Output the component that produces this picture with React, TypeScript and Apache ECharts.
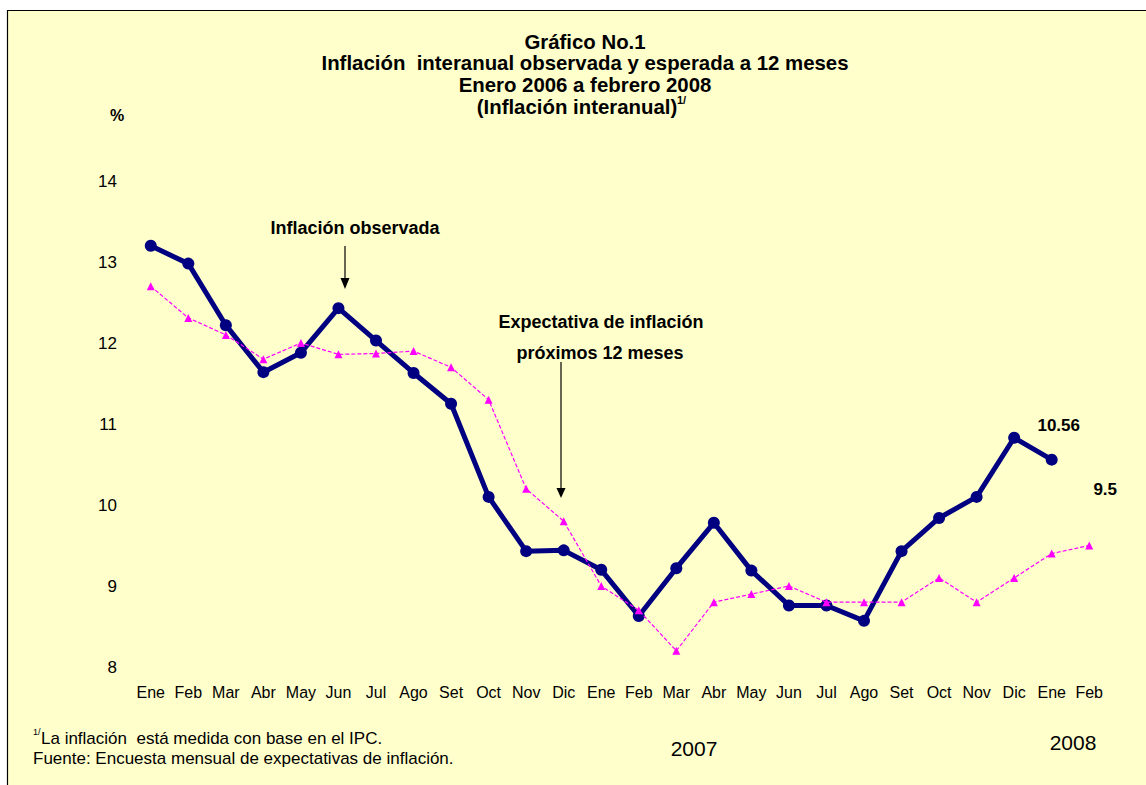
import React, { useEffect, useRef } from "react";
import * as echarts from "echarts";

const months = [
  "Ene", "Feb", "Mar", "Abr", "May", "Jun", "Jul", "Ago", "Set", "Oct", "Nov", "Dic",
  "Ene", "Feb", "Mar", "Abr", "May", "Jun", "Jul", "Ago", "Set", "Oct", "Nov", "Dic",
  "Ene", "Feb",
];

const observed: (number | null)[] = [
  13.2, 12.98, 12.22, 11.64, 11.88, 12.43, 12.03, 11.63, 11.25, 10.1, 9.43, 9.44,
  9.2, 8.63, 9.22, 9.78, 9.19, 8.76, 8.76, 8.57, 9.43, 9.84, 10.1, 10.83,
  10.56, null,
];

const expected: number[] = [
  12.7, 12.31, 12.1, 11.8, 12.0, 11.86, 11.87, 11.9, 11.7, 11.3, 10.2, 9.8,
  9.0, 8.7, 8.2, 8.8, 8.9, 9.0, 8.8, 8.8, 8.8, 9.1, 8.8, 9.1,
  9.4, 9.5,
];

const yMin = 8;
const yMax = 14;
const yStep = 1;

const titleLines = [
  "Gráfico No.1",
  "Inflación  interanual observada y esperada a 12 meses",
  "Enero 2006 a febrero 2008",
];
const titleLast = "(Inflación interanual)";
const footnote1 = "La inflación  está medida con base en el IPC.";
const footnote2 = "Fuente: Encuesta mensual de expectativas de inflación.";

const FONT = "Arial, 'Liberation Sans', Helvetica, sans-serif";

export default function App() {
  const ref = useRef<HTMLDivElement>(null);

  useEffect(() => {
    if (!ref.current) return;
    const chart = echarts.init(ref.current, null, { renderer: "svg" });

    const lastObs = observed.length - 2;
    const lastExp = expected.length - 1;

    const obsData = observed.map((v, i) =>
      i === lastObs
        ? {
            value: v,
            label: {
              show: true,
              position: "inside",
              offset: [7, -34],
              formatter: "{c}",
              color: "#000",
              fontWeight: "bold",
              fontSize: 17,
              fontFamily: FONT,
            },
          }
        : v
    );
    const expData = expected.map((v, i) =>
      i === lastExp
        ? {
            value: v,
            label: {
              show: true,
              position: "inside",
              offset: [16, -56],
              formatter: "{c}",
              color: "#000",
              fontWeight: "bold",
              fontSize: 17,
              fontFamily: FONT,
            },
          }
        : v
    );

    const titleYs = [42, 63, 85];
    const graphics: any[] = [
      {
        type: "rect",
        silent: true,
        z: -10,
        shape: { x: 7.5, y: 10.5, width: 1160, height: 800 },
        style: { fill: "#FFFFCC", stroke: "#000", lineWidth: 1.2 },
      },
      ...titleLines.map((t, i) => ({
        type: "text",
        silent: true,
        x: 585,
        y: titleYs[i],
        style: {
          text: t,
          align: "center",
          verticalAlign: "middle",
          fontSize: 20.4,
          fontWeight: "bold",
          fontFamily: FONT,
          fill: "#000",
        },
      })),
      {
        type: "text",
        silent: true,
        x: 577,
        y: 107,
        style: {
          text: titleLast,
          align: "center",
          verticalAlign: "middle",
          fontSize: 20.4,
          fontWeight: "bold",
          fontFamily: FONT,
          fill: "#000",
        },
      },
      {
        type: "text",
        silent: true,
        x: 677,
        y: 100,
        style: {
          text: "1/",
          align: "left",
          verticalAlign: "middle",
          fontSize: 11,
          fontWeight: "bold",
          fontFamily: FONT,
          fill: "#000",
        },
      },
      {
        type: "text",
        silent: true,
        x: 117,
        y: 115,
        style: {
          text: "%",
          align: "center",
          verticalAlign: "middle",
          fontSize: 16,
          fontWeight: "bold",
          fontFamily: FONT,
          fill: "#000",
        },
      },
      {
        type: "text",
        silent: true,
        x: 355,
        y: 228,
        style: {
          text: "Inflación observada",
          align: "center",
          verticalAlign: "middle",
          fontSize: 18,
          fontWeight: "bold",
          fontFamily: FONT,
          fill: "#000",
        },
      },
      {
        type: "line",
        silent: true,
        shape: { x1: 345, y1: 246, x2: 345, y2: 280 },
        style: { stroke: "#000", lineWidth: 1.2 },
      },
      {
        type: "polygon",
        silent: true,
        shape: { points: [[340.5, 278], [349.5, 278], [345, 289]] },
        style: { fill: "#000" },
      },
      {
        type: "text",
        silent: true,
        x: 601,
        y: 322,
        style: {
          text: "Expectativa de inflación",
          align: "center",
          verticalAlign: "middle",
          fontSize: 18,
          fontWeight: "bold",
          fontFamily: FONT,
          fill: "#000",
        },
      },
      {
        type: "text",
        silent: true,
        x: 600,
        y: 353,
        style: {
          text: "próximos 12 meses",
          align: "center",
          verticalAlign: "middle",
          fontSize: 18,
          fontWeight: "bold",
          fontFamily: FONT,
          fill: "#000",
        },
      },
      {
        type: "line",
        silent: true,
        shape: { x1: 561, y1: 362, x2: 561, y2: 490 },
        style: { stroke: "#000", lineWidth: 1.2 },
      },
      {
        type: "polygon",
        silent: true,
        shape: { points: [[556.5, 488], [565.5, 488], [561, 498]] },
        style: { fill: "#000" },
      },
      {
        type: "text",
        silent: true,
        x: 33,
        y: 732,
        style: {
          text: "1/",
          align: "left",
          verticalAlign: "middle",
          fontSize: 9,
          fontFamily: FONT,
          fill: "#000",
        },
      },
      {
        type: "text",
        silent: true,
        x: 41,
        y: 738,
        style: {
          text: footnote1,
          align: "left",
          verticalAlign: "middle",
          fontSize: 17,
          fontFamily: FONT,
          fill: "#000",
        },
      },
      {
        type: "text",
        silent: true,
        x: 33,
        y: 758,
        style: {
          text: footnote2,
          align: "left",
          verticalAlign: "middle",
          fontSize: 17,
          fontFamily: FONT,
          fill: "#000",
        },
      },
      {
        type: "text",
        silent: true,
        x: 694,
        y: 748,
        style: {
          text: "2007",
          align: "center",
          verticalAlign: "middle",
          fontSize: 21,
          fontFamily: FONT,
          fill: "#000",
        },
      },
      {
        type: "text",
        silent: true,
        x: 1073,
        y: 742,
        style: {
          text: "2008",
          align: "center",
          verticalAlign: "middle",
          fontSize: 21,
          fontFamily: FONT,
          fill: "#000",
        },
      },
    ];

    chart.setOption({
      animation: false,
      backgroundColor: "#FFFFFF",
      textStyle: { fontFamily: FONT },
      grid: { left: 132, right: 38, top: 181, bottom: 118, containLabel: false },
      xAxis: {
        type: "category",
        data: months,
        boundaryGap: true,
        axisLine: { show: false },
        axisTick: { show: false },
        splitLine: { show: false },
        axisLabel: {
          interval: 0,
          color: "#000",
          fontSize: 16,
          fontFamily: FONT,
          margin: 17,
        },
      },
      yAxis: {
        type: "value",
        min: yMin,
        max: yMax,
        interval: yStep,
        axisLine: { show: false },
        axisTick: { show: false },
        splitLine: { show: false },
        axisLabel: {
          color: "#000",
          fontSize: 17,
          fontFamily: FONT,
          margin: 15,
        },
      },
      graphic: graphics,
      series: [
        {
          name: "Inflación observada",
          type: "line",
          data: obsData,
          symbol: "circle",
          symbolSize: 12,
          showSymbol: true,
          connectNulls: false,
          lineStyle: { color: "#000080", width: 5 },
          itemStyle: { color: "#000080" },
          z: 2,
        },
        {
          name: "Expectativa de inflación",
          type: "line",
          data: expData,
          symbol: "triangle",
          symbolSize: 8,
          showSymbol: true,
          lineStyle: { color: "#FF00FF", width: 1.2, type: [4, 2] },
          itemStyle: { color: "#FF00FF" },
          z: 3,
        },
      ],
    });

    return () => chart.dispose();
  }, []);

  return (
    <div
      ref={ref}
      style={{
        position: "fixed",
        left: 0,
        top: 0,
        width: 1146,
        height: 785,
      }}
    />
  );
}
